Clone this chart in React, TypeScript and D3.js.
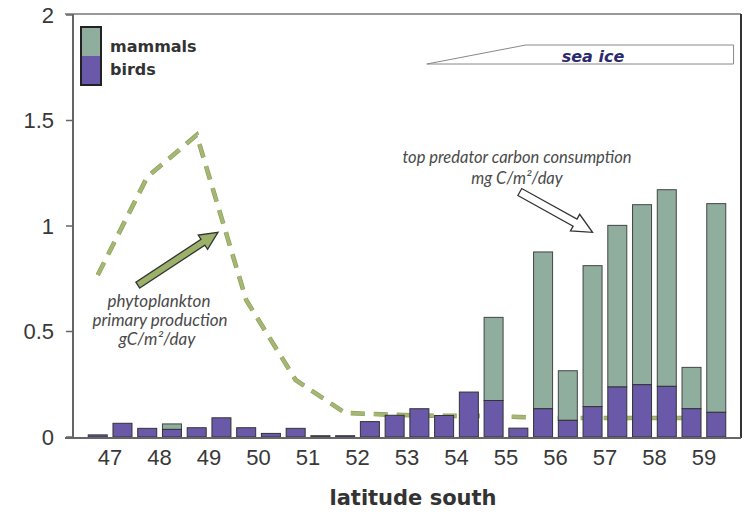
import React from "react";
import * as d3 from "d3";

// Latitude (degrees south) of each half-degree bin
const latitudes = [
  46.75, 47.25, 47.75, 48.25, 48.75, 49.25, 49.75, 50.25, 50.75, 51.25, 51.75, 52.25, 52.75,
  53.25, 53.75, 54.25, 54.75, 55.25, 55.75, 56.25, 56.75, 57.25, 57.75, 58.25, 58.75, 59.25,
];
// Top predator carbon consumption, mg C/m²/day
const birds = [
  0.01, 0.065, 0.041, 0.036, 0.044, 0.091, 0.044, 0.017, 0.041, 0.006, 0.006, 0.073, 0.103,
  0.134, 0.102, 0.213, 0.173, 0.042, 0.134, 0.079, 0.144, 0.237, 0.248, 0.24, 0.134, 0.117,
];
const mammals = [
  0, 0, 0, 0.026, 0, 0, 0, 0, 0, 0, 0, 0, 0,
  0, 0, 0, 0.394, 0, 0.743, 0.235, 0.668, 0.766, 0.853, 0.932, 0.196, 0.989,
];
// Phytoplankton primary production, gC/m²/day
const phytoLat = [46.75, 47.75, 48.75, 49.75, 50.75, 51.75, 52.75, 53.75, 54.75, 55.75, 56.75, 57.75, 58.75];
const phytoValues = [0.768, 1.232, 1.431, 0.649, 0.27, 0.114, 0.105, 0.1, 0.1, 0.09, 0.09, 0.09, 0.09];

const xTicks = [47, 48, 49, 50, 51, 52, 53, 54, 55, 56, 57, 58, 59];
const yTicks = [0, 0.5, 1, 1.5, 2];
const yTickLabels = ["0", "0.5", "1", "1.5", "2"];

const W = 750;
const H = 516;
const COL_MAMMALS = "#8fae9e";
const COL_BIRDS = "#6a58a8";
const COL_PHYTO = "#a5b873";
const SANS = "'DejaVu Sans', Verdana, sans-serif";

const x = d3.scaleLinear().domain([46.25, 59.75]).range([73, 741]);
const y = d3.scaleLinear().domain([0, 2]).range([437, 15]);
const BAR_W = 19;

function arrowPath(x1: number, y1: number, x2: number, y2: number, shaft: number, head: number, headLen: number) {
  const dx = x2 - x1;
  const dy = y2 - y1;
  const len = Math.hypot(dx, dy);
  const ux = dx / len;
  const uy = dy / len;
  const nx = -uy;
  const ny = ux;
  const bx = x2 - ux * headLen;
  const by = y2 - uy * headLen;
  const pts: [number, number][] = [
    [x1 + nx * shaft / 2, y1 + ny * shaft / 2],
    [bx + nx * shaft / 2, by + ny * shaft / 2],
    [bx + nx * head / 2, by + ny * head / 2],
    [x2, y2],
    [bx - nx * head / 2, by - ny * head / 2],
    [bx - nx * shaft / 2, by - ny * shaft / 2],
    [x1 - nx * shaft / 2, y1 - ny * shaft / 2],
  ];
  return "M" + pts.map((p) => p.join(",")).join("L") + "Z";
}

export default function App() {
  const line = d3
    .line<number>()
    .x((_, i) => x(phytoLat[i]))
    .y((v) => y(v))
    .curve(d3.curveLinear);
  const phytoPath = line(phytoValues) || "";

  const italic = { fontFamily: "Lato, 'Open Sans', sans-serif", fontStyle: "italic" as const };

  return (
    <svg width={W} height={H} style={{ position: "absolute", left: 0, top: 0, background: "#fff" }}>
      {/* frame */}
      <line x1={65} x2={741} y1={14} y2={14} stroke="#777" strokeWidth={1.5} />
      <line x1={741} x2={741} y1={14} y2={438} stroke="#333" strokeWidth={2} />

      {/* phytoplankton production */}
      <path d={phytoPath} fill="none" stroke="#8d9e5c" strokeWidth={4.6} strokeDasharray="14 9" />
      <path d={phytoPath} fill="none" stroke={COL_PHYTO} strokeWidth={3.2} strokeDasharray="14 9" />

      {/* stacked bars */}
      {latitudes.map((lat, i) => {
        const cx = x(lat);
        const b = birds[i];
        const m = mammals[i];
        return (
          <g key={lat}>
            {m > 0 && (
              <rect
                x={cx - BAR_W / 2}
                y={y(b + m)}
                width={BAR_W}
                height={y(b) - y(b + m)}
                fill={COL_MAMMALS}
                stroke="#444"
                strokeWidth={1}
              />
            )}
            <rect
              x={cx - BAR_W / 2}
              y={y(b)}
              width={BAR_W}
              height={y(0) - y(b)}
              fill={COL_BIRDS}
              stroke="#333"
              strokeWidth={1}
            />
          </g>
        );
      })}

      {/* axes */}
      <line x1={73} x2={73} y1={14} y2={438} stroke="#666" strokeWidth={2} />
      <line x1={65} x2={741} y1={438} y2={438} stroke="#666" strokeWidth={2} />
      {yTicks.map((t, i) => (
        <g key={t}>
          <line x1={66} x2={73} y1={y(t)} y2={y(t)} stroke="#666" strokeWidth={1.5} />
          <text
            x={54}
            y={y(t)}
            dy="0.36em"
            textAnchor="end"
            fontFamily="'Liberation Sans', Arial, sans-serif"
            fontSize={22}
            fill="#383838"
          >
            {yTickLabels[i]}
          </text>
        </g>
      ))}
      {xTicks.map((t) => (
        <text
          key={t}
          x={x(t)}
          y={465}
          textAnchor="middle"
          fontFamily="'Liberation Sans', Arial, sans-serif"
          fontSize={22}
          fill="#383838"
        >
          {t}
        </text>
      ))}
      <text x={413} y={505} textAnchor="middle" fontFamily={SANS} fontWeight="bold" fontSize={21} fill="#333">
        latitude south
      </text>

      {/* legend */}
      <rect x={81} y={27} width={20} height={29} fill={COL_MAMMALS} />
      <rect x={81} y={56} width={20} height={29} fill={COL_BIRDS} />
      <rect x={81} y={27} width={20} height={58} fill="none" stroke="#222" strokeWidth={2} />
      <text x={110} y={52} fontFamily={SANS} fontWeight="bold" fontSize={16} fill="#333">
        mammals
      </text>
      <text x={110} y={75} fontFamily={SANS} fontWeight="bold" fontSize={16} fill="#333">
        birds
      </text>

      {/* sea ice wedge */}
      <path
        d={`M${x(53.4)},64 L${x(55.4)},45 L${x(59.6)},45 L${x(59.6)},64 Z`}
        fill="#fff"
        stroke="#888"
        strokeWidth={1}
      />
      <text
        x={593}
        y={62}
        textAnchor="middle"
        fontFamily={SANS}
        fontStyle="italic"
        fontWeight="bold"
        fontSize={16}
        fill="#2b2a6e"
      >
        sea ice
      </text>

      {/* phytoplankton annotation */}
      <path
        d={arrowPath(x(47.56), y(0.72), x(49.18), y(0.97), 7, 17, 18)}
        fill="#9bb068"
        stroke="#333"
        strokeWidth={1.3}
        strokeLinejoin="miter"
      />
      <text x={159} y={307} textAnchor="middle" {...italic} fontSize={17} fill="#4a4a4a">
        phytoplankton
      </text>
      <text x={160} y={326} textAnchor="middle" {...italic} fontSize={17} fill="#4a4a4a">
        primary production
      </text>
      <text x={157} y={345} textAnchor="middle" {...italic} fontSize={17} fill="#4a4a4a">
        gC/m²/day
      </text>

      {/* predator annotation */}
      <text x={517} y={163} textAnchor="middle" {...italic} fontSize={16.5} fill="#4a4a4a">
        top predator carbon consumption
      </text>
      <text x={517} y={184} textAnchor="middle" {...italic} fontSize={16.5} fill="#4a4a4a">
        mg C/m²/day
      </text>
      <path
        d={arrowPath(x(55.28), y(1.161), x(56.75), y(0.97), 8, 19, 20)}
        fill="#fff"
        stroke="#333"
        strokeWidth={1.3}
      />
    </svg>
  );
}
